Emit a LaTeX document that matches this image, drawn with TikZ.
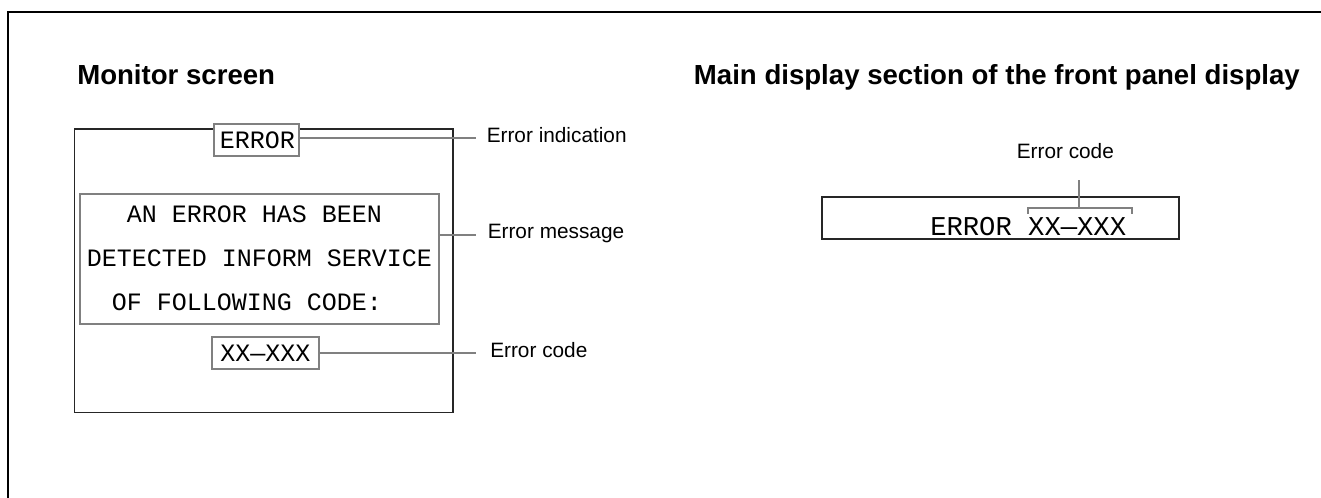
\documentclass[tikz,border=0pt]{standalone}
\usepackage{fontspec}
\setmainfont{Liberation Sans}
\newfontfamily\monof{Liberation Mono}
\begin{document}
\begin{tikzpicture}[x=0.75pt,y=-0.75pt,
  title/.style={font=\fontsize{20.7pt}{24pt}\selectfont\bfseries, inner sep=0pt},
  lbl/.style={font=\fontsize{15.6pt}{18pt}\selectfont, inner sep=0pt, anchor=base west},
  mono/.style={font=\monof\fontsize{18.75pt}{20pt}\selectfont, inner sep=0pt},
  monob/.style={font=\monof\fontsize{20.4pt}{22pt}\selectfont, inner sep=0pt},
  gbox/.style={draw=black!50, line width=1.4pt, fill=white, inner sep=0pt},
  lead/.style={draw=black!50, line width=1.4pt},
  thinbox/.style={draw=black!85, line width=0.9pt, inner sep=0pt}]
\useasboundingbox (0,0) rectangle (1321,497);
% outer frame (top and left)
\draw[line width=1.5pt, line join=miter] (8,500) -- (8,12.3) -- (1325,12.3);
% titles
\node[title, anchor=base west] (t1) at (77,84) {Monitor screen};
\node[title, anchor=base east] (t2) at (1300,84) {Main display section of the front panel display};
% monitor screen
\node[thinbox, minimum width=283.9pt, minimum height=212.8pt] (mon) at (263.75,270.85) {};
\node[gbox, minimum width=63.75pt, minimum height=24pt] (errbox) at (256.5,140) {};
\node[mono, anchor=base] (errtxt) at (257.5,148) {ERROR};
\node[gbox, minimum width=269.25pt, minimum height=97.5pt] (msgbox) at (259.5,259) {};
\node[mono, anchor=base west] (m1) at (126.5,222) {AN ERROR HAS BEEN};
\node[mono, anchor=base west] (m2) at (86.5,266) {DETECTED INFORM SERVICE};
\node[mono, anchor=base west] (m3) at (111.5,310) {OF FOLLOWING CODE:};
\node[gbox, minimum width=80.25pt, minimum height=24pt] (codebox) at (265.5,353) {};
\node[mono, anchor=base] (codetxt) at (265.5,361) {XX—XXX};
% leaders and labels
\coordinate (e1) at (476,138);
\coordinate (e2) at (476,235);
\coordinate (e3) at (476,353);
\draw[lead] (errbox.east |- e1) -- (e1);
\draw[lead] (msgbox.east |- e2) -- (e2);
\draw[lead] (codebox.east |- e3) -- (e3);
\node[lbl] (l1) at (486.5,142) {Error indication};
\node[lbl] (l2) at (487.5,238) {Error message};
\node[lbl] (l3) at (490,357) {Error code};
% front panel display
\node[thinbox, minimum width=267.75pt, minimum height=31.5pt] (disp) at (1000.5,218) {};
\node[monob, anchor=base west] (dtxt) at (930,235) {ERROR XX—XXX};
\coordinate (brk) at (1079,208);
\coordinate (rtop) at (1079,180);
\draw[lead] (1028,213.5) -- (1028,208) -- (1132,208) -- (1132,213.5);
\draw[lead] (brk) -- (rtop);
\node[lbl] (l4) at (1016.5,158) {Error code};
\end{tikzpicture}
\end{document}
